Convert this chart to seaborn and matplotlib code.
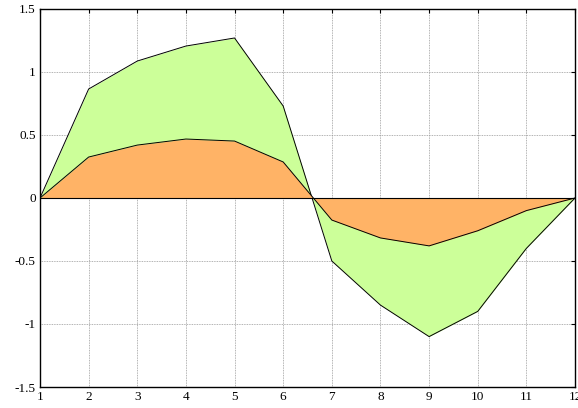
import matplotlib
matplotlib.use("Agg")
import matplotlib.pyplot as plt
import seaborn as sns
import pandas as pd
import numpy as np

x = [1, 2, 3, 4, 5, 6, 7, 8, 9, 10, 11, 12]
outer = [0, 0.865, 1.087, 1.206, 1.27, 0.73, -0.5, -0.85, -1.10, -0.90, -0.40, 0]
inner = [0, 0.325, 0.42, 0.468, 0.452, 0.286, -0.175, -0.317, -0.38, -0.26, -0.10, 0]
xticks = list(range(1, 13))
yticks = [-1.5, -1, -0.5, 0, 0.5, 1, 1.5]
yticklabels = ["-1.5", "-1", "-0.5", "0", "0.5", "1", "1.5"]

sns.set_style("white")
plt.rcParams['font.family'] = ['Liberation Serif', 'DejaVu Serif']

fig = plt.figure(figsize=(5.78, 4.08), dpi=100)
ax = fig.add_axes([40/578, 1-387/408, 535/578, 378/408])

df = pd.DataFrame({"x": x, "outer": outer, "inner": inner})

ax.fill_between(df["x"], 0, df["outer"], color="#ccff99", zorder=2, linewidth=0)
sns.lineplot(data=df, x="x", y="outer", ax=ax, color="black", linewidth=0.7, zorder=3)
ax.fill_between(df["x"], 0, df["inner"], color="#ffb366", zorder=4, linewidth=0)
sns.lineplot(data=df, x="x", y="inner", ax=ax, color="black", linewidth=0.7, zorder=5)
ax.axhline(0, color="black", linewidth=0.8, zorder=6)

ax.set_xlim(1, 12)
ax.set_ylim(-1.5, 1.5)
ax.set_xticks(xticks)
ax.set_xticklabels([str(v) for v in xticks])
ax.set_yticks(yticks)
ax.set_yticklabels(yticklabels)
ax.set_xlabel("")
ax.set_ylabel("")
ax.grid(True, color="#999999", linestyle=(0, (1, 1)), linewidth=0.6, zorder=1)
ax.set_axisbelow(True)
for s in ax.spines.values():
    s.set_color("black")
    s.set_linewidth(1.0)
ax.tick_params(direction="in", length=3, width=0.8, top=True, right=True,
               labelsize=9.5, colors="black", pad=3)
for lab in ax.get_xticklabels() + ax.get_yticklabels():
    lab.set_color("black")

fig.savefig("out.png", dpi=100)
